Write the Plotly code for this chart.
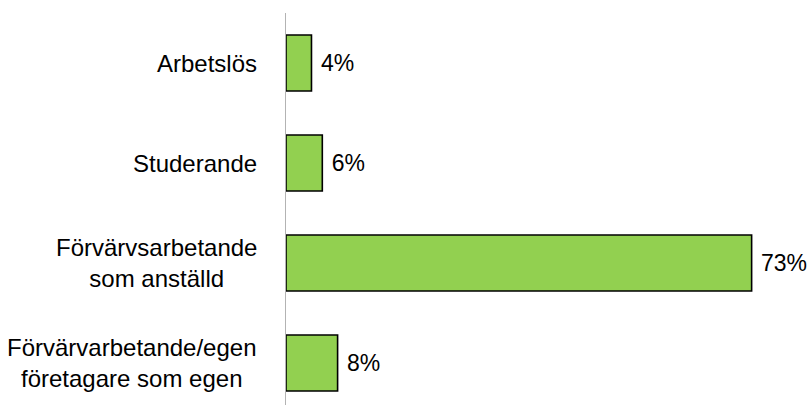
import plotly.graph_objects as go

# Data
categories = [
    "Arbetslös",
    "Studerande",
    "Förvärvsarbetande<br>som anställd",
    "Förvärvarbetande/egen<br>företagare som egen",
]
values = [4.0, 5.7, 73.1, 8.1]

BAR_GREEN = "#92D050"
FONT = "Liberation Sans, Arial, sans-serif"

fig = go.Figure()

fig.add_trace(go.Bar(
    x=values,
    y=categories,
    orientation="h",
    marker=dict(color=BAR_GREEN, line=dict(color="#000000", width=1.6)),
    texttemplate=" %{x:.0f}%",
    textposition="outside",
    textfont=dict(family=FONT, size=23, color="#000000"),
    constraintext="none",
    cliponaxis=False,
    hoverinfo="skip",
))

# Category labels as centred annotations (tick labels would be right aligned)
for cat in categories:
    fig.add_annotation(
        x=0, y=cat, xref="x", yref="y",
        text=cat, showarrow=False,
        xanchor="right", yanchor="middle", align="center",
        xshift=-27,
        font=dict(family=FONT, size=24, color="#000000"),
    )

fig.update_layout(
    width=808,
    height=405,
    margin=dict(l=286, r=50, t=13, b=0, autoexpand=False),
    paper_bgcolor="white",
    plot_bgcolor="white",
    showlegend=False,
    bargap=0.44,
    xaxis=dict(visible=False, range=[0, 74.1], showgrid=False, zeroline=False),
    yaxis=dict(
        type="category",
        range=[3.42, -0.5],
        showticklabels=False,
        showgrid=False,
        zeroline=False,
        showline=True,
        linecolor="#B3B3B3",
        linewidth=1,
        ticks="",
    ),
)

# drop the default body margin so the figure sits at the page corner
fig.write_html(
    "out.html",
    config={"displayModeBar": False},
    post_script="document.body.style.margin='0';",
)
